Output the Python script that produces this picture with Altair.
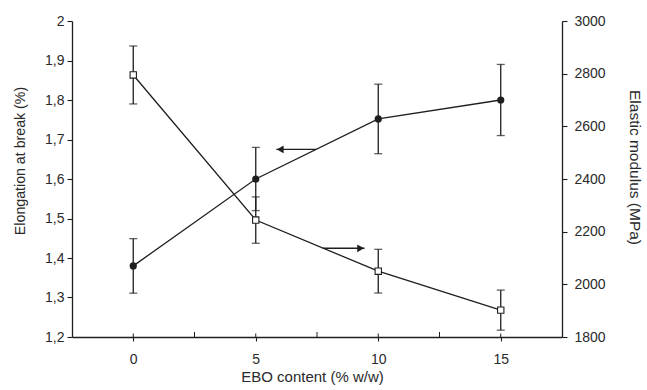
import altair as alt
import pandas as pd

# ---- data ----
ebo = [0, 5, 10, 15]
elongation = [1.38, 1.60, 1.752, 1.80]
elongation_err = [0.069, 0.08, 0.088, 0.09]
modulus = [2795, 2244, 2050, 1902]
modulus_err = [110, 88, 83, 76]

# annotation arrows (data coordinates)
arrow_left_x = [5.84, 7.47]      # tip, tail  (points to left axis)
arrow_left_y = [1.675, 1.675]
arrow_right_x = [7.73, 9.44]     # tail, tip  (points to right axis)
arrow_right_y = [2137, 2137]

x_major = [0, 5, 10, 15]
x_minor = [2.5, 7.5, 12.5]
y_left_ticks = [1.2, 1.3, 1.4, 1.5, 1.6, 1.7, 1.8, 1.9, 2.0]
y_right_ticks = [1800, 2000, 2200, 2400, 2600, 2800, 3000]

INK = "#1e1e1e"
FONT = "Liberation Sans"
W, H = 490, 316

df = pd.DataFrame({
    "ebo": ebo,
    "elong": elongation,
    "elong_lo": [v - e for v, e in zip(elongation, elongation_err)],
    "elong_hi": [v + e for v, e in zip(elongation, elongation_err)],
    "mod": modulus,
    "mod_lo": [v - e for v, e in zip(modulus, modulus_err)],
    "mod_hi": [v + e for v, e in zip(modulus, modulus_err)],
})
arrL = pd.DataFrame({"ebo": arrow_left_x, "elong": arrow_left_y})
arrR = pd.DataFrame({"ebo": arrow_right_x, "mod": arrow_right_y})
arrL_head = pd.DataFrame({"ebo": [arrow_left_x[0] + 0.16], "elong": [arrow_left_y[0]]})
arrR_head = pd.DataFrame({"ebo": [arrow_right_x[1] - 0.16], "mod": [arrow_right_y[1]]})
ticks_major = pd.DataFrame({"ebo": x_major})
ticks_minor = pd.DataFrame({"ebo": x_minor})

xscale = alt.Scale(domain=[-2.5, 17.5], nice=False, zero=False)
ls = alt.Scale(domain=[1.2, 2.0], nice=False, zero=False)
rs = alt.Scale(domain=[1800, 3000], nice=False, zero=False)

x_axis = alt.Axis(values=x_major, title="EBO content (% w/w)", tickSize=4,
                  labelPadding=11, titleBaseline="alphabetic", titleY=44,
                  titleX=W / 2 - 5, titleFontSize=15)
left_axis = alt.Axis(values=y_left_ticks, title="Elongation at break (%)",
                     labelExpr="replace(format(datum.value, '.1~f'), '.', ',')",
                     tickSize=5, labelPadding=3, titleAngle=270,
                     titleBaseline="alphabetic", titleX=-48, titleY=139.5,
                     titleAlign="center", titleFontSize=14.2)
right_axis = alt.Axis(values=y_right_ticks, title="Elastic modulus (MPa)",
                      orient="right", format="d", tickSize=5, labelPadding=7,
                      titleAngle=90, titleBaseline="alphabetic", titleX=67,
                      titleY=146, titleAlign="center", titleFontSize=15.5)

X = lambda: alt.X("ebo:Q", scale=xscale, axis=x_axis)
YL = lambda f: alt.Y(f + ":Q", scale=ls, axis=left_axis)
YR = lambda f: alt.Y(f + ":Q", scale=rs, axis=right_axis)

base = alt.Chart(df)

# ---------- left (elongation) ----------
l_line = base.mark_line(color=INK, strokeWidth=1.3).encode(x=X(), y=YL("elong"))
l_err = base.mark_rule(color=INK, strokeWidth=1.3).encode(x=X(), y=YL("elong_lo"), y2="elong_hi:Q")
l_cap1 = base.mark_tick(orient="horizontal", size=8, thickness=1.3, color=INK).encode(
    x=X(), y=YL("elong_lo"))
l_cap2 = base.mark_tick(orient="horizontal", size=8, thickness=1.3, color=INK).encode(
    x=X(), y=YL("elong_hi"))
l_pts = base.mark_circle(size=52, color=INK, opacity=1).encode(x=X(), y=YL("elong"))
l_arrow = alt.Chart(arrL).mark_line(color=INK, strokeWidth=1.3).encode(x=X(), y=YL("elong"))
l_head = alt.Chart(arrL_head).mark_point(shape="triangle-left", filled=True, size=60,
                                         color=INK, opacity=1).encode(x=X(), y=YL("elong"))
# inner parts of the x-axis ticks
t_major = alt.Chart(ticks_major).mark_rule(color=INK, strokeWidth=1).encode(
    x=X(), y=alt.value(H - 3.5), y2=alt.value(H))
t_minor = alt.Chart(ticks_minor).mark_rule(color=INK, strokeWidth=1).encode(
    x=X(), y=alt.value(H - 5), y2=alt.value(H))

left = alt.layer(l_line, l_err, l_cap1, l_cap2, l_arrow, l_head, t_major, t_minor, l_pts)

# ---------- right (modulus) ----------
r_line = base.mark_line(color=INK, strokeWidth=1.3).encode(x=X(), y=YR("mod"))
r_err = base.mark_rule(color=INK, strokeWidth=1.3).encode(x=X(), y=YR("mod_lo"), y2="mod_hi:Q")
r_cap1 = base.mark_tick(orient="horizontal", size=8, thickness=1.3, color=INK).encode(
    x=X(), y=YR("mod_lo"))
r_cap2 = base.mark_tick(orient="horizontal", size=8, thickness=1.3, color=INK).encode(
    x=X(), y=YR("mod_hi"))
r_pts = base.mark_point(shape="square", filled=True, fill="white", stroke=INK,
                        strokeWidth=1.1, size=40, opacity=1).encode(x=X(), y=YR("mod"))
r_arrow = alt.Chart(arrR).mark_line(color=INK, strokeWidth=1.3).encode(x=X(), y=YR("mod"))
r_head = alt.Chart(arrR_head).mark_point(shape="triangle-right", filled=True, size=60,
                                         color=INK, opacity=1).encode(x=X(), y=YR("mod"))

right = alt.layer(r_line, r_err, r_cap1, r_cap2, r_arrow, r_head, r_pts)

chart = alt.layer(left, right).resolve_scale(y="independent").properties(
    width=W, height=H,
    autosize=alt.AutoSizeParams(type="none"),
    padding={"left": 72, "top": 21, "right": 85, "bottom": 53},
    background="white",
).configure_view(stroke=None).configure_axis(
    grid=False, domainColor=INK, domainWidth=1.3, tickColor=INK, tickWidth=1.1,
    labelColor="#2a2a2a", titleColor="#2a2a2a", labelFont=FONT, titleFont=FONT,
    labelFontSize=14, titleFontWeight="normal",
)

chart.save("out.html", embed_options={"renderer": "svg", "actions": False})
